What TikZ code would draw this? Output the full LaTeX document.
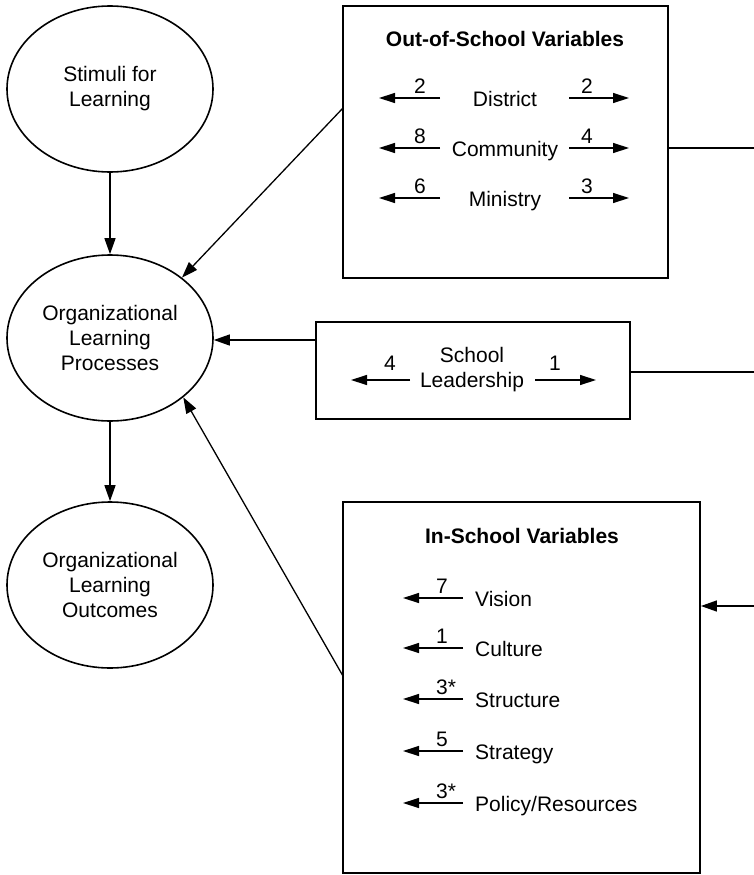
\documentclass[tikz,border=0pt]{standalone}
\usepackage{fontspec}
\setmainfont{Liberation Sans}
\usetikzlibrary{shapes.geometric,arrows.meta}
\begin{document}
\begin{tikzpicture}[x=1pt,y=-1pt,
  every node/.style={font=\fontsize{21}{25}\selectfont},
  oval/.style={ellipse,draw,line width=1.6pt,minimum width=206pt,minimum height=166pt,inner sep=0pt,align=center},
  panel/.style={draw,line width=1.8pt,inner sep=0pt},
  conn/.style={line width=1.3pt},
  arr/.style={conn,-{Triangle[length=16pt,width=11pt]}},
  sarr/.style={conn,-{Triangle[length=16pt,width=10pt]}},
  title/.style={font=\fontsize{21}{25}\selectfont\bfseries,anchor=base},
  lbl/.style={anchor=base},
  lblw/.style={anchor=base west},
  num/.style={anchor=base,inner sep=0pt},
  numw/.style={anchor=base west,inner sep=0pt}]
\useasboundingbox (0,0) rectangle (754,875);

% left column: stimuli, processes, outcomes
\node[oval] (stim) at (110,89) {Stimuli for\\Learning};
\node[oval] (olp) at (110,338) {Organizational\\Learning\\Processes};
\node[oval] (olo) at (110,585) {Organizational\\Learning\\Outcomes};
\draw[arr] (stim.south) -- (olp.north);
\draw[arr] (olp.south) -- (olo.north);

% out-of-school panel
\node[panel,minimum width=325pt,minimum height=272pt] (oos) at (505.5,142) {};
\node[title] (oost) at (505,47) {Out-of-School Variables};
\node[lbl] (dist) at (505,106) {District};
\node[lbl] (comm) at (505,156) {Community};
\node[lbl] (mini) at (505,206) {Ministry};
\node[num] (n1) at (420,93) {2};
\node[num] (n2) at (587,93) {2};
\node[num] (n3) at (420,143) {8};
\node[num] (n4) at (587,143) {4};
\node[num] (n5) at (420,193) {6};
\node[num] (n6) at (587,193) {3};
\foreach \r/\y in {a/98,b/148,c/198}{
  \coordinate (l\r s) at (440,\y); \coordinate (l\r e) at (379,\y);
  \coordinate (r\r s) at (569,\y); \coordinate (r\r e) at (629,\y);
  \draw[sarr] (l\r s) -- (l\r e);
  \draw[sarr] (r\r s) -- (r\r e);
}

% school leadership panel
\node[panel,minimum width=314pt,minimum height=97pt] (sl) at (473,370.5) {};
\node[lbl] (slt1) at (472,362) {School};
\node[lbl] (slt2) at (472,387) {Leadership};
\node[num] (sn1) at (390,370) {4};
\node[num] (sn2) at (555,370) {1};
\coordinate (sls) at (410,380); \coordinate (sle) at (351,380);
\coordinate (srs) at (535,380); \coordinate (sre) at (596,380);
\draw[sarr] (sls) -- (sle);
\draw[sarr] (srs) -- (sre);

% in-school panel
\node[panel,minimum width=357pt,minimum height=371pt] (ins) at (521.5,687.5) {};
\node[title] (inst) at (522,543) {In-School Variables};
\foreach \i/\y/\n/\t in {1/598/7/Vision,2/648/1/Culture,3/699/3*/Structure,4/751/5/Strategy,5/803/3*/{Policy/Resources}}{
  \node[numw] (in\i) at (436,\y-5) {\n};
  \node[lblw,inner sep=0pt] (it\i) at (475,\y+8) {\t};
  \coordinate (is\i) at (463,\y); \coordinate (ie\i) at (403,\y);
  \draw[sarr] (is\i) -- (ie\i);
}

% connectors between panels and processes
\coordinate (oosL) at (343,108);
\draw[arr] (oosL) -- (olp.40);
\coordinate (slL) at (316,340);
\draw[arr] (slL) -- (slL -| olp.east);
\coordinate (insL) at (343,676);
\draw[arr] (insL) -- (olp.321);

% lines leaving to the right
\coordinate (oosR) at (754,148);
\draw[conn] (oos.east |- oosR) -- (oosR);
\coordinate (slR) at (754,372);
\draw[conn] (sl.east |- slR) -- (slR);
\coordinate (insR) at (754,606);
\draw[arr] (insR) -- (ins.east |- insR);
\end{tikzpicture}
\end{document}
